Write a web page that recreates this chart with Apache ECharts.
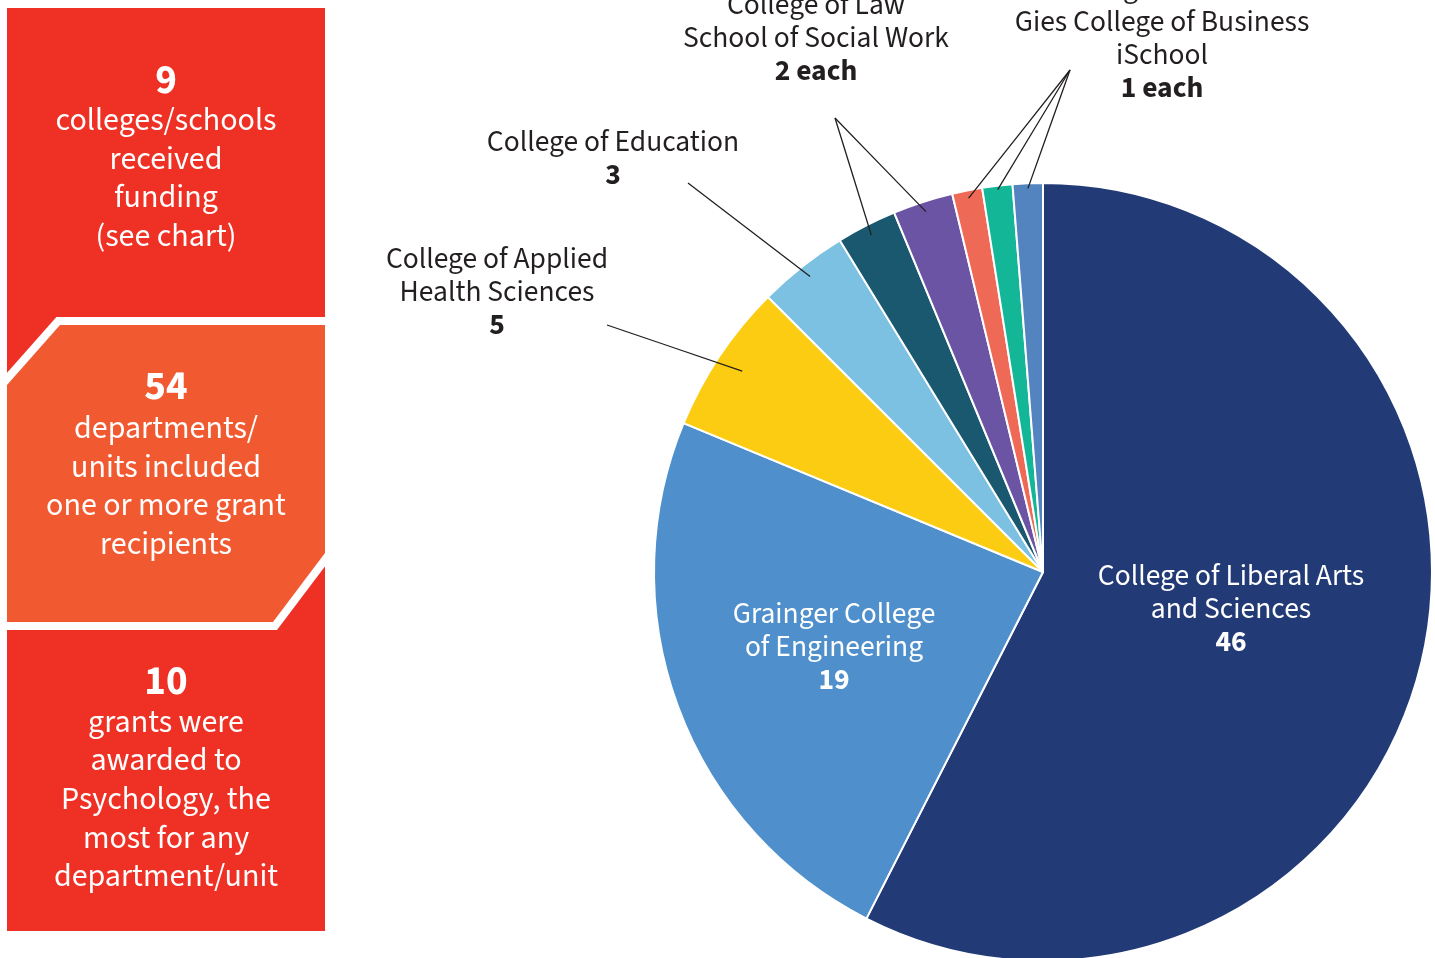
<!DOCTYPE html>
<html><head><meta charset="utf-8">
<script src="https://cdn.jsdelivr.net/npm/echarts@6/dist/echarts.min.js"></script>
<style>html,body{margin:0;padding:0;background:#fff}#c{width:1435px;height:958px}</style>
</head><body><div id="c"></div>
<script>
// ---- data ----
const categories = ['College of Liberal Arts and Sciences','Grainger College of Engineering','College of Applied Health Sciences','College of Education','College of Law','School of Social Work','College of Media','Gies College of Business','iSchool'];
const grants = [46, 19, 5, 3, 2, 2, 1, 1, 1];
const sliceColors = ['#223a75','#4f8fcb','#fccc12','#7cc1e1','#1a5870','#6b54a3','#ef6957','#13b797','#5384bf'];
// display lines for each label (empty = shares the label of a neighbour)
const labelNameLines = [['College of Liberal Arts','and Sciences'],['Grainger College','of Engineering'],['College of Applied','Health Sciences'],['College of Education'],['College of Law','School of Social Work'],[],['College of Media','Gies College of Business','iSchool'],[],[]];
const labelValueText = ['46','19','5','3','2 each','','1 each','',''];
const statNumbers = ['9','54','10'];
const statTexts = [
  ['colleges/schools','received','funding','(see chart)'],
  ['departments/','units included','one or more grant','recipients'],
  ['grants were','awarded to','Psychology, the','most for any','department/unit']
];

// ---- layout ----
const FONT = '"Source Sans Pro","Source Sans 3",Lato,sans-serif';
const FS = 29.5;
const CX = 1043, CY = 572, R = 389;
const labelPos = [
  {x:1231, y:612},
  {x:834, y:650},
  {x:497, y:295, ax:607, ay:325, k:0.93},
  {x:613, y:161, ax:688, ay:183, k:0.967},
  {x:816, y:41, ax:835, ay:118, k:0.972},
  {x:835, y:118, ax:835, ay:118, k:0.974},
  {x:1162, y:41, ax:1070, ay:70, k:0.98},
  {x:1070, y:70, ax:1070, ay:70, k:0.99},
  {x:1070, y:70, ax:1070, ay:70, k:0.987}
];
const total = grants.reduce((a,b)=>a+b,0);
const midAngles = [];
{ let acc = 0; grants.forEach(v => { midAngles.push((acc + v/2)/total*2*Math.PI); acc += v; }); }

const chart = echarts.init(document.getElementById('c'), null, {renderer:'canvas'});

const sliceData = categories.map((name, i) => ({name, value: grants[i], itemStyle:{color: sliceColors[i]}}));
const labelData = categories.map((name, i) => {
  const d = {name, value: grants[i]};
  if (i < 2) {
    d.label = {position:'inside', color:'#fff', rich:{b:{color:'#fff', fontWeight:'bold', fontSize:FS, lineHeight:33, fontFamily:FONT}}};
    d.labelLine = {show:false};
  }
  return d;
});

const graphics = [
  {type:'rect', shape:{x:7, y:8, width:318, height:923}, style:{fill:'#ee3124'}, z:1},
  {type:'polygon', shape:{points:[[56.4,317],[333,317],[333,555.7],[277,630],[0,630],[0,380.8]]}, style:{fill:'#fff'}, z:2},
  {type:'polygon', shape:{points:[[60,325],[325,325],[325,553],[273,622],[7,622],[7,385]]}, style:{fill:'#f15a31'}, z:3}
];
const numY = [84, 390, 685];
const bodyY = [181, 489, 802];
statNumbers.forEach((n, i) => {
  graphics.push({type:'text', x:166, y:numY[i], z:5, style:{text:n, fill:'#fff', font:'bold 41px ' + FONT, align:'center', verticalAlign:'middle'}});
  graphics.push({type:'text', x:166, y:bodyY[i], z:5, style:{text:statTexts[i].join('\n'), fill:'#fff', fontFamily:FONT, fontSize:32, lineHeight:38.7, align:'center', verticalAlign:'middle'}});
});

chart.setOption({
  animation:false,
  backgroundColor:'#fff',
  graphic: graphics,
  series:[{
    type:'pie',
    center:[CX, CY],
    radius:R,
    startAngle:90,
    clockwise:true,
    silent:true,
    z:2,
    itemStyle:{borderColor:'#fff', borderWidth:2},
    label:{show:false},
    labelLine:{show:false},
    data: sliceData
  },{
    type:'pie',
    center:[CX, CY],
    radius:R,
    startAngle:90,
    clockwise:true,
    avoidLabelOverlap:false,
    silent:true,
    z:4,
    itemStyle:{color:'rgba(0,0,0,0)', borderWidth:0},
    label:{
      show:true, position:'outside', color:'#231f20', fontFamily:FONT, fontSize:FS, lineHeight:33,
      formatter: p => {
        const i = p.dataIndex;
        const lines = labelNameLines[i].slice();
        if (labelValueText[i]) lines.push('{b|' + labelValueText[i] + '}');
        return lines.length ? lines.join('\n') : ' ';
      },
      rich:{b:{fontWeight:'bold', fontSize:FS, lineHeight:33, color:'#231f20', fontFamily:FONT}}
    },
    labelLine:{show:true, length:5, length2:5, lineStyle:{color:'#231f20', width:1.3}},
    labelLayout: function(params){
      const i = params.dataIndex;
      const lp = labelPos[i];
      const out = {x: lp.x, y: lp.y, align:'center', verticalAlign:'middle'};
      if (lp.ax !== undefined) {
        const a = midAngles[i];
        const px = CX + lp.k*R*Math.sin(a), py = CY - lp.k*R*Math.cos(a);
        out.labelLinePoints = [[px,py],[(px+lp.ax)/2,(py+lp.ay)/2],[lp.ax,lp.ay]];
      }
      return out;
    },
    data: labelData
  }]
});
</script></body></html>
